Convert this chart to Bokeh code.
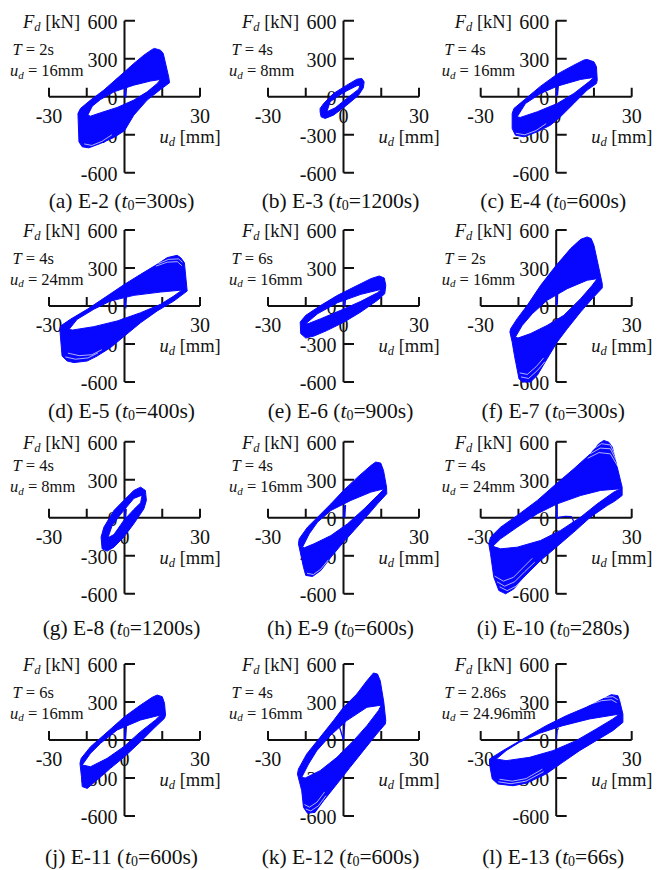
from bokeh.plotting import figure
from bokeh.layouts import column, row
from bokeh.models import Range1d
from bokeh.core.properties import value
from bokeh.embed import file_html
from bokeh.resources import INLINE

# ---------------------------------------------------------------------------
# Hysteresis bands: outer envelope, inner (unloaded) hole and initial branch,
# displacement u_d in mm and damper force F_d in kN.
# ---------------------------------------------------------------------------
E2_OUTER_U = [11.9, 14.3, 15.4, 17.6, 17.9, 14.3, 9.0, 3.7, 0.0, -4.2, -9.5, -14.2, -16.8, -18.1, -18.5, -17.5, -13.5, -8.2, 0.0, 3.7, 7.7, 11.0]
E2_OUTER_F = [382, 368, 342, 153, 111, 58, -26, -145, -268, -321, -368, -403, -395, -355, -132, -92, -26, 53, 197, 263, 329, 374]
E2_HOLE_U = [-14.6, -12.8, -9.5, -4.2, 3.7, 10.3, 14.3, 13.0, 9.0, 3.7, -2.9, -9.5, -13.5]
E2_HOLE_F = [-145, -74, -21, 39, 92, 124, 137, 105, 39, -26, -84, -126, -153]
E2_INIT_U = [0.0, 0.2, 0.8, 0.5]
E2_INIT_F = [0, 75, 80, -10]

E3_OUTER_U = [7.3, 8.2, 7.9, 6.0, 1.3, -4.0, -7.3, -8.9, -9.3, -9.3, -7.9, -4.0, 1.3, 5.3]
E3_OUTER_F = [145, 118, 71, 13, -66, -145, -171, -158, -118, -92, -53, 26, 92, 139]
E3_HOLE_U = [-6.6, -5.3, 0.0, 5.3, 6.6, 6.0, 1.3, -3.3]
E3_HOLE_F = [-118, -39, 34, 87, 92, 60, -13, -87]
E3_INIT_U = [0.0, 0.3, 0.6]
E3_INIT_F = [0, 35, 40]

E4_OUTER_U = [12.3, 15.0, 16.0, 16.3, 16.0, 12.3, 7.0, 1.7, -2.3, -7.5, -12.8, -16.2, -17.5, -17.5, -16.8, -12.8, -6.2, 0.4, 7.0, 11.0]
E4_OUTER_F = [295, 276, 237, 132, 105, 53, -53, -158, -224, -276, -316, -303, -250, -132, -92, -26, 84, 179, 250, 290]
E4_HOLE_U = [-15.5, -12.2, -6.2, 0.4, 9.7, 15.0, 13.0, 7.0, 0.4, -7.5, -14.3]
E4_HOLE_F = [-158, -53, 26, 84, 137, 153, 118, 26, -53, -118, -163]
E4_INIT_U = [0.0, 0.3, 0.9, 0.5]
E4_INIT_F = [0, 80, 100, 10]

E5_OUTER_U = [20.9, 22.3, 23.8, 24.9, 19.6, 13.0, 6.4, 0.0, -5.6, -10.9, -14.8, -20.1, -22.8, -24.8, -25.7, -25.4, -21.5, -14.8, -6.9, 0.0, 6.4, 13.0, 17.0]
E5_OUTER_F = [400, 382, 342, 118, 39, -39, -132, -237, -329, -395, -434, -447, -434, -395, -184, -158, -105, -26, 79, 171, 250, 329, 382]
E5_HOLE_U = [-22.0, -18.8, -12.2, -5.6, 3.7, 14.3, 22.9, 19.6, 14.3, 6.4, -2.9, -12.2, -20.7]
E5_HOLE_F = [-184, -105, -26, 39, 84, 110, 126, 79, 13, -53, -118, -163, -190]
E5_INIT_U = [0.0, 0.3, 0.8, 0.5]
E5_INIT_F = [0, 80, 90, -20]

E6_OUTER_U = [14.2, 16.2, 16.8, 16.4, 13.5, 6.9, 0.3, -6.4, -11.7, -15.0, -17.0, -17.2, -15.0, -9.0, -2.4, 4.2, 10.9]
E6_OUTER_F = [237, 221, 163, 97, 45, -47, -126, -192, -237, -253, -218, -126, -74, 5, 84, 150, 216]
E6_HOLE_U = [-15.0, -10.3, -2.4, 6.9, 15.1, 13.5, 6.9, -1.1, -9.0, -14.1]
E6_HOLE_F = [-140, -61, 26, 92, 132, 105, 37, -34, -100, -140]
E6_INIT_U = [0.0, 0.3, 0.9, 0.5]
E6_INIT_F = [0, 60, 70, -10]

E7_OUTER_U = [12.3, 13.9, 15.0, 18.3, 18.3, 14.3, 9.7, 4.4, 0.4, -3.6, -7.5, -10.2, -13.5, -14.8, -15.7, -16.6, -17.5, -18.4, -18.1, -15.5, -11.5, -6.2, 0.0, 5.7, 9.7]
E7_OUTER_F = [545, 532, 479, 176, 142, 58, -47, -179, -284, -416, -547, -600, -600, -574, -482, -390, -284, -205, -179, -100, 5, 163, 321, 453, 526]
E7_HOLE_U = [-16.2, -13.5, -9.5, -3.6, 4.4, 12.3, 16.3, 14.3, 9.7, 3.0, -3.6, -10.2, -15.2]
E7_HOLE_F = [-245, -153, -61, 45, 137, 203, 216, 163, 58, -74, -153, -218, -253]
E7_INIT_U = [0.0, 0.2, 0.6, 0.4]
E7_INIT_F = [0, 90, 110, 10]

E8_OUTER_U = [6.4, 8.3, 8.7, 7.7, 3.7, -0.3, -4.2, -6.9, -8.9, -9.3, -8.2, -4.2, -0.3, 3.7]
E8_OUTER_F = [242, 216, 137, 71, -47, -153, -232, -263, -245, -153, -74, 58, 137, 216]
E8_HOLE_U = [-6.6, -4.9, -1.6, 3.7, 7.0, 6.4, 3.7, -0.3, -4.2]
E8_HOLE_F = [-158, -61, 26, 153, 179, 118, 66, -21, -132]
E8_INIT_U = [0.0, 0.3, 0.7, 0.4]
E8_INIT_F = [0, 60, 70, -10]

E9_OUTER_U = [12.8, 14.8, 15.9, 17.1, 17.2, 13.5, 9.5, 4.2, 0.0, -5.0, -9.0, -12.3, -15.0, -15.9, -17.9, -17.6, -14.3, -10.3, -5.0, 0.0, 5.6, 10.9]
E9_OUTER_F = [440, 432, 374, 242, 190, 110, 18, -100, -192, -311, -416, -463, -455, -390, -205, -166, -74, 5, 110, 216, 321, 413]
E9_HOLE_U = [-16.3, -13.6, -10.3, -5.0, 2.9, 10.9, 16.2, 13.5, 8.2, 1.6, -5.0, -11.7, -15.6]
E9_HOLE_F = [-232, -126, -34, 58, 137, 203, 229, 176, 71, -47, -140, -205, -237]
E9_INIT_U = [0.0, 0.3, 0.8, 0.5]
E9_INIT_F = [0, 90, 100, 0]

E10_OUTER_U = [18.9, 20.9, 22.3, 26.2, 26.2, 23.3, 20.3, 13.6, 7.0, 0.0, -6.2, -12.8, -16.8, -20.1, -22.8, -24.8, -26.1, -26.8, -26.1, -22.1, -15.5, -7.5, 0.0, 7.0, 13.6, 16.9]
E10_OUTER_F = [611, 597, 558, 242, 176, 132, 97, 5, -113, -232, -337, -468, -561, -600, -574, -468, -284, -205, -153, -74, 18, 137, 268, 387, 505, 584]
E10_HOLE_U = [-25.2, -22.1, -15.5, -7.5, 0.4, 9.7, 17.6, 25.6, 22.9, 16.3, 9.7, 1.7, -6.2, -15.5, -22.1]
E10_HOLE_F = [-225, -166, -74, 32, 110, 176, 216, 229, 203, 110, 5, -100, -179, -232, -245]
E10_INIT_U = [0.0, 0.4, 0.4, 1.5, 3.7, 6.0, 6.8, 7.0]
E10_INIT_F = [0, 137, -8, 5, 12, 10, -21, -87]

E11_OUTER_U = [13.0, 15.0, 15.9, 16.3, 15.9, 11.7, 6.4, 0.0, -5.6, -10.9, -14.8, -16.8, -17.1, -17.7, -17.2, -13.5, -8.2, 0.0, 6.4, 11.0]
E11_OUTER_F = [355, 342, 290, 197, 171, 92, -13, -132, -224, -316, -382, -368, -290, -184, -145, -53, 39, 184, 276, 337]
E11_HOLE_U = [-16.8, -13.5, -9.5, -2.9, 6.4, 14.3, 12.3, 6.4, -0.3, -6.9, -13.5]
E11_HOLE_F = [-197, -105, -26, 79, 158, 197, 158, 66, -53, -145, -211]
E11_INIT_U = [0.0, 0.3, 0.8, 0.4]
E11_INIT_F = [0, 100, 120, 0]

E12_OUTER_U = [11.9, 13.5, 14.6, 16.0, 16.8, 16.6, 13.2, 7.9, 2.6, -2.6, -7.9, -11.3, -14.3, -15.9, -16.6, -18.3, -17.9, -14.6, -9.3, -4.0, 0.0, 5.3, 9.3]
E12_OUTER_F = [529, 521, 468, 300, 153, 126, 47, -84, -216, -347, -479, -571, -579, -532, -400, -268, -229, -110, 21, 153, 258, 363, 468]
E12_HOLE_U = [-16.6, -13.9, -10.6, -5.3, 1.3, 9.3, 15.0, 13.9, 9.3, 4.0, -2.6, -9.3, -15.2]
E12_HOLE_F = [-295, -190, -84, 34, 153, 258, 275, 232, 113, -5, -137, -242, -300]
E12_INIT_U = [-2.0, 0.0, 0.6]
E12_INIT_F = [130, 0, 166]

E13_OUTER_U = [21.9, 24.5, 25.2, 26.5, 26.5, 22.5, 15.9, 9.3, 2.6, -4.0, -11.9, -17.2, -23.2, -25.4, -26.5, -26.5, -21.2, -13.2, -4.0, 4.0, 11.9, 18.5]
E13_OUTER_F = [358, 350, 311, 205, 139, 74, -5, -84, -176, -268, -342, -361, -347, -308, -190, -150, -84, 8, 113, 192, 258, 324]
E13_HOLE_U = [-23.8, -19.9, -14.6, -6.6, 2.6, 13.2, 25.2, 22.5, 15.9, 7.9, -1.3, -10.6, -19.9]
E13_HOLE_F = [-150, -84, -18, 53, 113, 166, 205, 166, 87, -5, -84, -137, -163]
E13_INIT_U = [0.0, 0.4, 1.0]
E13_INIT_F = [0, 80, 90]

# Gaps between the outermost cycles (u list, F list per gap)
E2_GAPS = [([-16.0, -13.0, -9.0, -5.0], [-372, -384, -352, -300])]
E4_GAPS = [([-16.0, -12.5, -8.0, -4.0], [-288, -300, -266, -212])]
E5_GAPS = [([-23.5, -19.5, -14.5, -10.5], [-402, -420, -410, -370]),
           ([-22.5, -18.0, -13.0, -9.0], [-372, -392, -385, -345]),
           ([13.5, 17.5, 21.5, 23.0], [335, 368, 372, 345]),
           ([12.5, 17.0, 21.0, 22.8], [315, 346, 350, 318])]
E7_GAPS = [([-14.0, -11.0, -7.5, -4.5], [-560, -572, -510, -440]),
           ([-14.5, -11.5, -8.0, -5.0], [-528, -540, -480, -410])]
E9_GAPS = [([-14.5, -12.0, -9.0, -6.0], [-438, -448, -405, -332])]
E10_GAPS = [([-22.5, -19.5, -16.0, -12.0, -8.0], [-545, -575, -540, -460, -385]),
            ([-23.5, -20.5, -16.5, -12.5, -8.5], [-505, -540, -505, -425, -350]),
            ([-24.5, -21.0, -17.0, -13.0, -9.5], [-460, -500, -470, -390, -320]),
            ([14.5, 18.0, 21.5, 24.0], [540, 585, 575, 470]),
            ([13.5, 17.5, 21.5, 24.5], [505, 550, 545, 430]),
            ([12.5, 17.0, 21.5, 25.0], [470, 515, 505, 390])]
E12_GAPS = [([-15.0, -13.0, -10.0, -7.0], [-545, -560, -520, -440]),
            ([-15.5, -13.5, -10.5, -7.5], [-510, -530, -490, -410])]
E13_GAPS = [([14.0, 18.5, 22.5, 24.5], [300, 335, 342, 318]),
            ([13.0, 18.0, 22.0, 24.0], [280, 310, 318, 295]),
            ([-23.0, -18.0, -12.0, -5.0], [-330, -345, -325, -250]),
            ([-22.5, -17.5, -12.0, -5.5], [-310, -325, -305, -230])]

# Panel captions and test conditions
PANEL_TAGS = ["a", "b", "c", "d", "e", "f", "g", "h", "i", "j", "k", "l"]
SPECIMENS = ["E-2", "E-3", "E-4", "E-5", "E-6", "E-7", "E-8", "E-9", "E-10", "E-11", "E-12", "E-13"]
START_TIMES = ["300", "1200", "600", "400", "900", "300", "1200", "600", "280", "600", "600", "66"]
PERIODS = ["2", "4", "4", "4", "6", "2", "4", "4", "4", "6", "4", "2.86"]
AMPLITUDES = ["16", "8", "16", "24", "16", "16", "8", "16", "24", "16", "16", "24.96"]

BANDS = [
    (E2_OUTER_U, E2_OUTER_F, E2_HOLE_U, E2_HOLE_F, E2_INIT_U, E2_INIT_F, E2_GAPS),
    (E3_OUTER_U, E3_OUTER_F, E3_HOLE_U, E3_HOLE_F, E3_INIT_U, E3_INIT_F, []),
    (E4_OUTER_U, E4_OUTER_F, E4_HOLE_U, E4_HOLE_F, E4_INIT_U, E4_INIT_F, E4_GAPS),
    (E5_OUTER_U, E5_OUTER_F, E5_HOLE_U, E5_HOLE_F, E5_INIT_U, E5_INIT_F, E5_GAPS),
    (E6_OUTER_U, E6_OUTER_F, E6_HOLE_U, E6_HOLE_F, E6_INIT_U, E6_INIT_F, []),
    (E7_OUTER_U, E7_OUTER_F, E7_HOLE_U, E7_HOLE_F, E7_INIT_U, E7_INIT_F, E7_GAPS),
    (E8_OUTER_U, E8_OUTER_F, E8_HOLE_U, E8_HOLE_F, E8_INIT_U, E8_INIT_F, []),
    (E9_OUTER_U, E9_OUTER_F, E9_HOLE_U, E9_HOLE_F, E9_INIT_U, E9_INIT_F, E9_GAPS),
    (E10_OUTER_U, E10_OUTER_F, E10_HOLE_U, E10_HOLE_F, E10_INIT_U, E10_INIT_F, E10_GAPS),
    (E11_OUTER_U, E11_OUTER_F, E11_HOLE_U, E11_HOLE_F, E11_INIT_U, E11_INIT_F, []),
    (E12_OUTER_U, E12_OUTER_F, E12_HOLE_U, E12_HOLE_F, E12_INIT_U, E12_INIT_F, E12_GAPS),
    (E13_OUTER_U, E13_OUTER_F, E13_HOLE_U, E13_HOLE_F, E13_INIT_U, E13_INIT_F, E13_GAPS),
]

# Axis ticks
X_TICKS = [-30, -15, 15, 30]
X_LABEL_VALUES = [-30, 0, 30]
Y_TICKS = [600, 300, -300, -600]
Y_LABEL_VALUES = [600, 300, 0, -300, -600]

# ---------------------------------------------------------------------------
# Page geometry (pixels)
# ---------------------------------------------------------------------------
COL_EDGES = [0, 223, 440, 668]
ROW_EDGES = [0, 216, 425, 645, 870]
ORIGIN_X = [124.0, 343.0, 555.7]
ORIGIN_Y = [96.3, 305.5, 517.3, 739.5]
CAPTION_DROP = [104.5, 104.5, 109.7, 116.5]
PARAM_RISE = [(47.0, 26.0), (47.5, 27.0), (52.0, 31.0), (47.5, 27.0)]
SX = 151.0 / 60.0      # px per mm
SY = 152.0 / 1200.0    # px per kN

BLUE = "#0707ff"
INK = "#111111"
SERIF = "Liberation Serif"

CHAR_EM = {c: 0.5 for c in "0123456789"}
CHAR_EM.update({"(": 0.333, ")": 0.333, " ": 0.25, "-": 0.333, "=": 0.564, ".": 0.25,
                "[": 0.333, "]": 0.333, "a": 0.444, "b": 0.5, "c": 0.444, "d": 0.5,
                "e": 0.444, "f": 0.333, "g": 0.5, "h": 0.5, "i": 0.278, "j": 0.278,
                "k": 0.5, "l": 0.278, "m": 0.778, "s": 0.389, "t": 0.278, "u": 0.5,
                "E": 0.611, "F": 0.611, "N": 0.722, "T": 0.556})


def text_width(txt, size):
    return sum(CHAR_EM.get(ch, 0.5) for ch in txt) * size


def draw_runs(p, x, y, runs, dx, dy, align="left"):
    """Draw one line made of mixed italic / subscript runs.
    dx: pixel offset of the alignment point, dy: pixel offset of the line's middle."""
    total = sum(text_width(t, s) for t, _, s, _ in runs)
    if align == "center":
        cur = dx - total / 2
    elif align == "right":
        cur = dx - total
    else:
        cur = dx
    for txt, italic, size, shift in runs:
        lead = len(txt) - len(txt.lstrip(" "))
        cur += text_width(" " * lead, size)
        body = txt.lstrip(" ")
        p.text(x=[x], y=[y], text=[body], x_offset=cur, y_offset=dy + shift,
               text_align="left", text_baseline="middle",
               text_font=value(SERIF), text_font_size=f"{size}px",
               text_font_style="italic" if italic else "normal", text_color=INK)
        cur += text_width(body, size)


def make_panel(i):
    r, c = divmod(i, 3)
    w = COL_EDGES[c + 1] - COL_EDGES[c]
    h = ROW_EDGES[r + 1] - ROW_EDGES[r]
    oxl = ORIGIN_X[c] - COL_EDGES[c]
    oyl = ORIGIN_Y[r] - ROW_EDGES[r]
    p = figure(width=w, height=h,
               x_range=Range1d(-oxl / SX, (w - oxl) / SX),
               y_range=Range1d(-(h - oyl) / SY, oyl / SY),
               output_backend="svg", toolbar_location=None,
               x_axis_location=None, y_axis_location=None,
               min_border=0, outline_line_color=None)
    p.grid.visible = False
    p.background_fill_color = "white"
    p.border_fill_color = "white"

    # cross-shaped axes through the origin
    tick_up = 9.0 / SY
    tick_right = 10.5 / SX
    p.segment(x0=[-30], y0=[0], x1=[30], y1=[0], line_color=INK, line_width=2)
    p.segment(x0=[0], y0=[-600], x1=[0], y1=[600], line_color=INK, line_width=2)
    p.segment(x0=X_TICKS, y0=[0] * len(X_TICKS), x1=X_TICKS, y1=[tick_up] * len(X_TICKS),
              line_color=INK, line_width=2)
    p.segment(x0=[0] * len(Y_TICKS), y0=Y_TICKS, x1=[tick_right] * len(Y_TICKS), y1=Y_TICKS,
              line_color=INK, line_width=2)

    fs = 20
    for v in Y_LABEL_VALUES:
        draw_runs(p, 0, v, [(str(v), False, fs, 0)], -7, 1, "right")
    for v in X_LABEL_VALUES:
        draw_runs(p, v, 0, [(str(v), False, fs, 0)], 0, 19, "center")

    # axis titles
    ts = 18.5
    draw_runs(p, 0, 600, [("F", True, ts, 0), ("d", True, 12.5, 5), (" [kN]", False, ts, 0)],
              -101.5, 1, "left")
    draw_runs(p, 0, 0, [("u", True, ts, 0), ("d", True, 12.5, 5), (" [mm]", False, ts, 0)],
              35, 40, "left")

    # test conditions
    ps = 16.5
    rise_t, rise_u = PARAM_RISE[r]
    draw_runs(p, 0, 0, [("T", True, ps, 0), (" = " + PERIODS[i] + "s", False, ps, 0)],
              -112, -rise_t, "left")
    draw_runs(p, 0, 0, [("u", True, ps, 0), ("d", True, 11, 4), (" = " + AMPLITUDES[i] + "mm", False, ps, 0)],
              -114.5, -rise_u, "left")

    # caption
    cs = 21.5
    draw_runs(p, 0, 0, [("(" + PANEL_TAGS[i] + ") " + SPECIMENS[i] + " (", False, cs, 0),
                        ("t", True, cs, 0), ("0", False, 14, 4),
                        ("=" + START_TIMES[i] + "s)", False, cs, 0)],
              -3, CAPTION_DROP[r], "center")

    # hysteresis band (filled envelope with the unloaded hole left open)
    ou, of, hu, hf, iu, inf, gaps = BANDS[i]
    p.multi_polygons(xs=[[[ou, hu]]], ys=[[[of, hf]]], fill_color=BLUE, line_color=BLUE,
                     line_width=1, line_join="round")
    if gaps:
        p.multi_line(xs=[g[0] for g in gaps], ys=[g[1] for g in gaps],
                     line_color="white", line_width=0.8, line_alpha=0.85)
    p.line(iu, inf, line_color=BLUE, line_width=1.3)
    return p


panels = [make_panel(i) for i in range(12)]
layout = column(*[row(*panels[r * 3:r * 3 + 3], spacing=0) for r in range(4)], spacing=0)

open("out.html", "w").write(file_html(layout, INLINE, title="Hysteresis loops"))
